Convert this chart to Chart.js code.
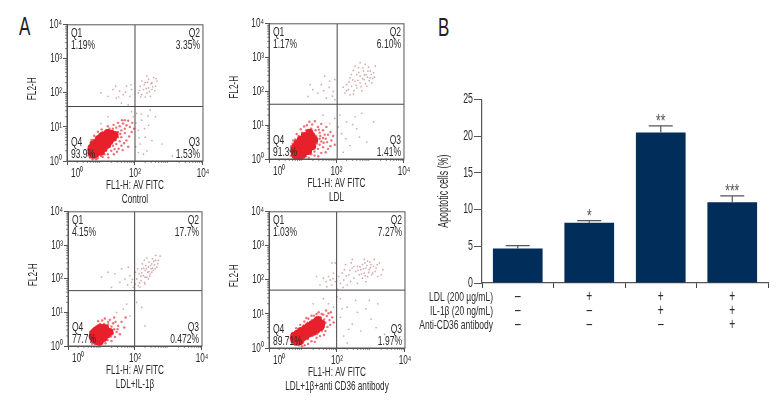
<!DOCTYPE html>
<html>
<head>
<meta charset="utf-8">
<script src="https://cdn.jsdelivr.net/npm/chart.js@4"></script>
<style>
body { margin: 0; background: #fff; width: 780px; height: 408px; overflow: hidden; position: relative; font-family: "Liberation Sans", sans-serif; }
canvas { position: absolute; }
.letter { position: absolute; font-size: 25px; color: #222; line-height: 25px; transform: scaleX(0.68); transform-origin: left top; }
</style>
</head>
<body>
<div class="letter" style="left:19px;top:14px">A</div>
<div class="letter" style="left:438px;top:15px">B</div>
<canvas id="c0"></canvas>
<canvas id="c1"></canvas>
<canvas id="c2"></canvas>
<canvas id="c3"></canvas>
<canvas id="barChart"></canvas>
<script>
// flow panels: all positions below are log10 of the fluorescence reading
var panelNames = ['Control', 'LDL', 'LDL+IL-1β', 'LDL+1β+anti CD36 antibody'];
var q1Text = ['1.19%', '1.17%', '4.15%', '1.03%'];
var q2Text = ['3.35%', '6.10%', '17.7%', '7.27%'];
var q3Text = ['1.53%', '1.41%', '0.472%', '1.97%'];
var q4Text = ['93.9%', '91.3%', '77.7%', '89.71%'];
var gateX = [2.0, 2.02, 1.99, 1.99];
var gateY = [1.6, 1.62, 1.65, 1.7];
var decades = [0, 1, 2, 3, 4];

var controlCore = [[0.72,0.25],[0.78,0.18],[0.85,0.22],[0.72,0.38],[0.8,0.32],[0.9,0.3],[1.0,0.28],[0.78,0.48],[0.88,0.42],[0.98,0.4],[1.08,0.38],[0.88,0.55],[0.98,0.52],[1.08,0.5],[1.18,0.48],[0.95,0.65],[1.05,0.62],[1.15,0.6],[1.25,0.58],[1.05,0.74],[1.15,0.72],[1.25,0.7],[1.35,0.68],[1.2,0.82],[1.3,0.8],[1.4,0.76]];
var controlHalo = [[0.68,0.1],[0.75,0.05],[0.9,0.08],[1.05,0.12],[1.2,0.2],[1.3,0.3],[1.4,0.35],[1.35,0.45],[1.45,0.5],[1.55,0.58],[1.6,0.7],[1.5,0.85],[1.6,0.9],[1.7,0.95],[1.75,1.05],[1.65,1.1],[1.55,1.02],[1.45,0.98],[1.35,0.95],[1.25,0.95],[1.15,0.9],[1.05,0.85],[0.95,0.78],[0.85,0.7],[0.77,0.62],[0.7,0.55],[0.67,0.42],[0.66,0.25],[1.1,0.2],[1.25,0.42],[1.8,1.18],[1.7,1.2],[1.85,1.0],[1.9,0.85],[1.5,0.7],[1.15,0.3],[1.0,0.15],[1.6,0.45],[1.75,0.6],[0.85,0.05],[0.72,0.62],[0.8,0.74],[0.91,0.86],[1.02,0.93],[1.2,1.02],[1.37,1.06],[1.5,1.12],[1.62,1.2],[1.92,1.12],[1.97,0.95],[1.83,0.72],[1.68,0.52],[1.52,0.36],[1.38,0.2],[1.22,0.1],[1.43,0.62],[1.57,0.8],[1.7,0.82],[1.47,0.27],[1.64,0.32],[1.8,0.42],[0.63,0.16],[0.62,0.33]];
var controlSparse = [[2.1,2.0],[2.15,2.2],[2.2,1.95],[2.25,2.1],[2.3,2.3],[2.35,2.0],[2.4,2.15],[2.4,2.4],[2.45,1.9],[2.5,2.1],[2.5,2.3],[2.55,2.45],[2.6,2.2],[2.65,2.35],[2.3,1.88],[2.2,2.35],[2.35,2.5],[1.2,1.9],[1.35,2.1],[1.45,1.85],[1.55,2.05],[1.65,1.95],[1.75,2.2],[1.85,1.9],[1.9,2.1],[1.0,2.0],[1.6,1.7],[1.8,1.65],[2.05,1.4],[2.1,0.9],[2.15,0.5],[2.2,1.2],[2.3,0.7],[2.35,0.3],[2.4,1.05],[2.25,0.2],[2.45,1.5],[2.5,0.6],[2.1,0.25],[2.6,1.3],[2.8,0.5],[3.1,0.15],[1.95,1.3],[1.9,1.45],[1.2,1.3],[1.0,1.1],[2.13,2.07],[2.27,2.24],[2.33,2.13],[2.42,2.04],[2.47,2.27],[2.58,2.06],[2.37,2.31],[2.52,2.18],[2.17,1.88],[2.62,2.42],[1.52,1.88],[1.72,2.02],[1.88,2.24],[1.43,2.2],[2.03,1.12],[2.12,0.68],[2.18,1.38],[2.28,0.95],[2.02,0.42],[2.38,1.32]];

var ldlCore = [[0.78,0.12],[0.88,0.1],[0.98,0.12],[0.76,0.24],[0.86,0.22],[0.96,0.22],[1.06,0.22],[1.16,0.24],[0.78,0.35],[0.88,0.34],[0.98,0.33],[1.08,0.33],[1.18,0.35],[1.28,0.38],[0.84,0.46],[0.94,0.45],[1.04,0.45],[1.14,0.46],[1.24,0.48],[0.94,0.57],[1.04,0.57],[1.14,0.57],[1.24,0.58],[1.34,0.56],[1.06,0.68],[1.16,0.68],[1.26,0.68],[1.2,0.78]];
var ldlHalo = [[0.72,0.05],[0.9,0.03],[1.1,0.08],[1.25,0.14],[1.35,0.22],[1.45,0.3],[1.5,0.42],[1.55,0.52],[1.6,0.62],[1.65,0.72],[1.5,0.78],[1.38,0.85],[1.25,0.9],[1.1,0.85],[0.98,0.78],[0.88,0.68],[0.78,0.58],[0.7,0.45],[0.7,0.3],[0.7,0.15],[1.4,0.68],[1.5,0.6],[1.42,0.46],[1.35,0.1],[1.6,0.35],[1.72,0.5],[1.75,0.72],[1.6,0.85],[1.45,0.95],[1.28,1.02],[1.12,1.0],[1.75,0.3],[1.85,0.55],[1.55,0.18],[1.82,0.8],[0.65,0.1],[0.64,0.24],[0.66,0.38],[0.72,0.55],[0.82,0.74],[0.94,0.88],[1.04,0.96],[1.2,1.1],[1.36,1.12],[1.55,1.04],[1.7,0.95],[1.9,0.68],[1.95,0.42],[1.68,0.2],[1.46,0.08],[1.52,0.68],[1.68,0.6],[1.62,0.48],[1.4,0.58],[1.82,0.38],[1.48,0.87],[1.18,0.03]];
var ldlSparse = [[2.25,1.95],[2.3,2.2],[2.35,2.05],[2.4,2.4],[2.45,2.15],[2.5,1.92],[2.55,2.3],[2.6,2.5],[2.6,2.1],[2.65,2.7],[2.7,2.25],[2.7,2.45],[2.75,2.02],[2.8,2.6],[2.82,2.35],[2.88,2.5],[2.9,2.15],[2.95,2.72],[3.0,2.4],[3.0,2.6],[3.05,2.25],[3.1,2.55],[3.15,2.75],[2.5,2.62],[2.4,1.9],[2.85,2.8],[2.55,2.75],[2.7,2.85],[1.15,1.85],[1.3,2.05],[1.45,1.95],[1.55,2.2],[1.7,1.8],[1.8,2.3],[1.9,2.0],[1.95,2.35],[1.65,2.45],[1.95,1.75],[2.1,1.3],[2.15,0.75],[2.3,1.1],[2.4,0.4],[2.55,1.25],[2.6,0.9],[2.2,0.2],[2.75,1.35],[2.9,0.5],[3.1,1.1],[1.95,1.2],[1.6,1.3],[1.8,1.05],[2.37,2.28],[2.48,2.34],[2.52,2.02],[2.63,2.33],[2.66,2.56],[2.73,2.14],[2.77,2.38],[2.83,2.48],[2.86,2.22],[2.92,2.42],[2.97,2.32],[3.03,2.5],[3.07,2.38],[2.58,2.18],[2.78,2.7],[2.93,2.6],[2.44,2.5],[2.3,2.02],[2.2,2.12],[3.12,2.42],[1.62,2.02],[1.78,2.12],[1.88,1.86],[1.22,2.2],[2.05,0.95],[2.28,0.6],[2.48,1.02],[2.68,0.65]];

var il1bCore = [[0.78,0.2],[0.86,0.15],[0.94,0.13],[0.74,0.3],[0.82,0.28],[0.9,0.26],[0.98,0.25],[1.06,0.24],[0.76,0.38],[0.84,0.37],[0.92,0.36],[1.0,0.35],[1.08,0.35],[1.16,0.34],[0.84,0.46],[0.92,0.45],[1.0,0.45],[1.08,0.45],[1.16,0.44],[1.24,0.42],[0.95,0.54],[1.03,0.54],[1.11,0.53]];
var il1bHalo = [[0.7,0.14],[0.8,0.07],[0.92,0.05],[1.05,0.12],[1.18,0.18],[1.28,0.28],[1.34,0.38],[1.38,0.5],[1.3,0.58],[1.2,0.64],[1.08,0.66],[0.96,0.66],[0.84,0.58],[0.74,0.5],[0.68,0.3],[1.45,0.42],[1.5,0.6],[1.42,0.72],[1.25,0.78],[1.1,0.82],[1.6,0.72],[1.55,0.35],[1.3,0.15],[0.66,0.42],[0.72,0.07],[0.9,0.74],[1.02,0.76],[1.35,0.68],[1.48,0.5],[1.4,0.27],[1.2,0.72],[1.68,0.55],[1.72,0.85],[1.38,0.85],[1.12,0.08]];
var il1bSparse = [[2.0,1.85],[2.05,2.0],[2.1,1.8],[2.12,2.15],[2.18,1.95],[2.2,2.3],[2.25,2.1],[2.28,1.9],[2.3,2.25],[2.32,2.4],[2.35,2.05],[2.38,2.2],[2.4,2.35],[2.42,2.5],[2.45,2.15],[2.48,2.3],[2.5,2.45],[2.52,2.6],[2.55,2.25],[2.58,2.42],[2.62,2.55],[2.65,2.35],[2.7,2.55],[2.75,2.68],[2.2,2.18],[2.3,2.05],[2.4,2.0],[1.95,1.75],[2.15,1.75],[1.85,2.1],[1.7,2.0],[1.55,1.9],[1.4,2.15],[1.2,2.2],[1.0,2.05],[1.6,2.3],[1.8,2.35],[1.9,1.9],[1.3,1.75],[1.75,1.25],[2.05,1.3],[1.65,1.1],[2.2,1.15],[1.45,1.0],[1.85,0.9],[2.3,0.6],[2.22,2.45],[2.28,2.56],[2.35,2.62],[2.42,2.22],[2.46,2.4],[2.52,2.32],[2.56,2.52],[2.6,2.3],[2.68,2.45],[2.34,2.3],[2.26,2.32],[2.18,2.08],[2.14,1.88],[2.3,1.85],[2.44,2.08],[2.5,2.2],[2.62,2.7],[2.02,2.2],[2.08,2.3],[1.92,1.98],[1.78,1.82]];

var ldlAbCore = [[0.74,0.25],[0.82,0.18],[0.9,0.2],[0.74,0.35],[0.82,0.3],[0.9,0.3],[0.98,0.3],[0.84,0.42],[0.92,0.4],[1.0,0.38],[1.08,0.36],[0.94,0.5],[1.02,0.47],[1.1,0.45],[1.18,0.43],[1.06,0.56],[1.14,0.53],[1.22,0.5],[1.3,0.48],[1.16,0.63],[1.24,0.6],[1.32,0.57],[1.4,0.54],[1.27,0.7],[1.35,0.67],[1.43,0.64],[1.51,0.62],[1.38,0.76],[1.46,0.74],[1.54,0.72],[1.44,0.82]];
var ldlAbHalo = [[0.68,0.16],[0.76,0.1],[0.88,0.08],[1.0,0.16],[1.14,0.26],[1.28,0.36],[1.42,0.42],[1.55,0.5],[1.62,0.62],[1.66,0.74],[1.62,0.84],[1.52,0.9],[1.38,0.88],[1.26,0.82],[1.14,0.74],[1.02,0.66],[0.9,0.56],[0.78,0.48],[0.68,0.36],[1.7,0.94],[1.78,0.82],[1.72,0.62],[1.55,1.0],[1.4,1.0],[1.25,0.95],[1.1,0.88],[1.05,0.08],[1.25,0.2],[1.5,0.35],[1.82,1.05],[1.9,0.75],[1.68,1.1],[0.64,0.28],[0.7,0.45],[0.8,0.58],[0.92,0.68],[1.04,0.78],[1.16,0.86],[1.32,0.95],[1.46,1.05],[1.6,0.98],[1.75,1.02],[1.86,0.9],[1.8,0.68],[1.66,0.5],[1.4,0.3],[1.15,0.12],[0.97,0.05],[1.35,0.18],[1.62,0.38]];
var ldlAbSparse = [[2.1,1.9],[2.15,2.2],[2.2,2.0],[2.25,2.45],[2.3,1.85],[2.35,2.15],[2.4,1.95],[2.45,2.35],[2.5,2.05],[2.55,2.25],[2.6,2.4],[2.65,2.15],[2.7,2.3],[2.75,2.05],[2.75,2.45],[2.8,2.2],[2.85,2.35],[2.9,2.55],[2.9,2.1],[2.95,2.3],[3.0,2.45],[3.05,2.2],[3.1,2.6],[3.15,2.35],[3.2,2.1],[3.25,2.5],[3.35,2.3],[2.6,1.9],[2.85,1.95],[2.45,2.6],[2.8,2.6],[1.5,1.85],[1.6,2.05],[1.7,1.8],[1.75,2.1],[1.8,2.0],[1.85,1.85],[1.9,2.2],[1.95,1.95],[1.4,2.1],[1.95,2.5],[1.85,2.5],[2.1,1.45],[2.1,0.9],[2.2,0.35],[2.3,1.2],[2.45,0.7],[2.55,1.4],[2.7,0.5],[2.85,1.15],[3.0,0.85],[3.2,1.3],[3.4,0.4],[2.3,0.15],[1.6,1.45],[1.75,1.3],[1.9,1.2],[1.3,1.3],[2.0,1.5],[2.72,2.18],[2.78,2.33],[2.83,2.12],[2.88,2.42],[2.93,2.22],[2.98,2.36],[3.02,2.15],[3.07,2.4],[3.12,2.25],[2.68,2.38],[2.62,2.28],[2.82,2.5],[2.97,2.52],[2.5,2.4],[2.38,2.28],[2.22,2.3],[2.27,2.12],[2.18,1.78],[2.42,2.5],[3.18,2.45],[3.3,2.15],[1.88,2.04],[1.68,1.95],[2.05,2.1],[2.02,1.72],[2.15,1.15],[2.35,0.55],[2.6,1.05],[2.95,1.4],[3.15,0.6]];

var panelCore = [controlCore, ldlCore, il1bCore, ldlAbCore];
var panelHalo = [controlHalo, ldlHalo, il1bHalo, ldlAbHalo];
var panelSparse = [controlSparse, ldlSparse, il1bSparse, ldlAbSparse];

// bar panel
var barValues = [4.7, 8.2, 20.5, 11];
var errorTops = [5.1, 8.5, 21.4, 11.85];
var stars = ['', '*', '**', '***'];
var yTicks = [0, 5, 10, 15, 20, 25];
var ldlRow = ['–', '+', '+', '+'];
var il1bRow = ['–', '–', '+', '+'];
var cd36Row = ['–', '–', '–', '+'];
var rowNames = ['LDL (200 µg/mL)', 'IL-1β (20 ng/mL)', 'Anti-CD36 antibody'];

var fontName = '"Liberation Sans", sans-serif';
var textColor = '#2a2a2a';
var axisColor = '#555';
var textSqueeze = 0.63;   // no narrow font here, so squeeze the text sideways

// where each flow plot sits on the page: left, top, size of plot area
var boxes = [[67, 24, 137], [269, 23, 136], [68, 211, 135], [269, 211, 137]];
var padLeft = 45, padTop = 8, padRight = 10, padBottom = 46;

Chart.register({
    id: 'narrowText',
    beforeInit: function (chart) {
        var ctx = chart.ctx;
        var original = ctx.fillText.bind(ctx);
        ctx.fillText = function (text, x, y) {
            ctx.save();
            ctx.translate(x, y);
            ctx.scale(textSqueeze, 1);
            original(text, 0, 0);
            ctx.restore();
        };
    }
});

var flowPlugin = {
    id: 'flowPlugin',
    afterDraw: function (chart) {
        var ctx = chart.ctx, a = chart.chartArea, i = chart.options.panelIndex;
        var x = chart.scales.x, y = chart.scales.y;
        ctx.save();
        ctx.strokeStyle = axisColor;
        ctx.lineWidth = 1;
        ctx.strokeRect(a.left, a.top, a.right - a.left, a.bottom - a.top);
        // short ticks between the decades
        ctx.lineWidth = 0.7;
        ctx.beginPath();
        for (var d = 0; d < 4; d++) {
            for (var m = 2; m < 10; m++) {
                var v = d + Math.log10(m);
                ctx.moveTo(x.getPixelForValue(v), a.bottom);
                ctx.lineTo(x.getPixelForValue(v), a.bottom + 2);
                ctx.moveTo(a.left, y.getPixelForValue(v));
                ctx.lineTo(a.left - 2, y.getPixelForValue(v));
            }
        }
        ctx.stroke();
        ctx.fillStyle = textColor;
        ctx.font = '13.5px ' + fontName;
        ctx.textBaseline = 'middle';
        ctx.textAlign = 'left';
        ctx.fillText('Q1', a.left + 4, a.top + 8);
        ctx.fillText(q1Text[i], a.left + 4, a.top + 20);
        ctx.fillText('Q4', a.left + 4, a.bottom - 19);
        ctx.fillText(q4Text[i], a.left + 4, a.bottom - 7);
        ctx.textAlign = 'right';
        ctx.fillText('Q2', a.right - 3, a.top + 8);
        ctx.fillText(q2Text[i], a.right - 3, a.top + 20);
        ctx.fillText('Q3', a.right - 3, a.bottom - 19);
        ctx.fillText(q3Text[i], a.right - 3, a.bottom - 7);
        ctx.restore();
    }
};

function makePanel(i) {
    var b = boxes[i];
    var canvas = document.getElementById('c' + i);
    canvas.width = b[2] + padLeft + padRight;
    canvas.height = b[2] + padTop + padBottom;
    canvas.style.left = (b[0] - padLeft) + 'px';
    canvas.style.top = (b[1] - padTop) + 'px';

    new Chart(canvas, {
        type: 'scatter',
        data: {
            datasets: [
                { data: panelSparse[i], pointRadius: 0.85, backgroundColor: 'rgba(180,90,100,0.55)', pointBorderWidth: 0, order: 4 },
                { data: panelHalo[i], pointRadius: 1.2, backgroundColor: 'rgba(232,50,60,0.7)', pointBorderWidth: 0, order: 3 },
                { data: panelCore[i], pointRadius: 4, backgroundColor: '#e7202b', pointBorderWidth: 0, order: 2 },
                { data: [[gateX[i], 0], [gateX[i], 4]], showLine: true, pointRadius: 0, borderColor: '#444', borderWidth: 1, order: 1 },
                { data: [[0, gateY[i]], [4, gateY[i]]], showLine: true, pointRadius: 0, borderColor: '#444', borderWidth: 1, order: 1 }
            ]
        },
        options: {
            panelIndex: i,
            responsive: false,
            animation: false,
            layout: { padding: { top: padTop, right: padRight } },
            plugins: { legend: { display: false }, tooltip: { enabled: false } },
            scales: {
                x: {
                    type: 'linear', min: 0, max: 4,
                    afterBuildTicks: function (s) { s.ticks = decades.map(function (d) { return { value: d }; }); },
                    afterFit: function (s) { s.height = padBottom; },
                    grid: { drawOnChartArea: false, tickLength: 4, tickColor: axisColor },
                    border: { color: axisColor },
                    ticks: {
                        maxRotation: 0, padding: 1, color: textColor, font: { family: fontName, size: 13 },
                        callback: function (v) { return (v === 0 ? '\u2003\u2003\u2002' : '') + '10' + '⁰¹²³⁴'[v]; }
                    },
                    title: { display: true, text: ['FL1-H: AV FITC', panelNames[i]], color: textColor, font: { family: fontName, size: 13, lineHeight: 1.1 }, padding: 0 }
                },
                y: {
                    type: 'linear', min: 0, max: 4,
                    afterBuildTicks: function (s) { s.ticks = decades.map(function (d) { return { value: d }; }); },
                    afterFit: function (s) { s.width = padLeft; },
                    grid: { drawOnChartArea: false, tickLength: 4, tickColor: axisColor },
                    border: { color: axisColor },
                    ticks: {
                        padding: 1, color: textColor, font: { family: fontName, size: 13 },
                        callback: function (v) { return '10' + '⁰¹²³⁴'[v]; }
                    },
                    title: { display: true, text: '\u2003FL2-H', color: textColor, font: { family: fontName, size: 13 }, padding: 3 }
                }
            }
        },
        plugins: [flowPlugin]
    });
}

for (var p = 0; p < 4; p++) {
    makePanel(p);
}

// error bars, stars and the row names for the bar panel
var barPlugin = {
    id: 'barPlugin',
    afterDatasetsDraw: function (chart) {
        var ctx = chart.ctx, x = chart.scales.x, y = chart.scales.y, a = chart.chartArea;
        ctx.save();
        ctx.strokeStyle = '#555';
        ctx.lineWidth = 1.2;
        ctx.fillStyle = '#555';
        ctx.textAlign = 'center';
        ctx.textBaseline = 'middle';
        ctx.font = '19px ' + fontName;
        for (var i = 0; i < barValues.length; i++) {
            var cx = x.getPixelForValue(i);
            var top = y.getPixelForValue(errorTops[i]);
            ctx.beginPath();
            ctx.moveTo(cx, y.getPixelForValue(barValues[i]));
            ctx.lineTo(cx, top);
            ctx.moveTo(cx - 12, top);
            ctx.lineTo(cx + 12, top);
            ctx.stroke();
            if (stars[i]) {
                ctx.fillText(stars[i], cx, top - 4);
            }
        }
        ctx.fillStyle = textColor;
        ctx.textAlign = 'right';
        ctx.font = '13.5px ' + fontName;
        for (var r = 0; r < rowNames.length; r++) {
            ctx.fillText(rowNames[r], a.left + 11, a.bottom + 14 + r * 14);
        }
        ctx.restore();
    }
};

var barCanvas = document.getElementById('barChart');
barCanvas.width = 360;
barCanvas.height = 250;
barCanvas.style.left = '410px';
barCanvas.style.top = '90px';

new Chart(barCanvas, {
    type: 'bar',
    data: {
        labels: ldlRow.map(function (s, i) { return [s, il1bRow[i], cd36Row[i]]; }),
        datasets: [{ data: barValues, backgroundColor: '#012d5b', barPercentage: 0.695, categoryPercentage: 1 }]
    },
    options: {
        responsive: false,
        animation: false,
        layout: { padding: { top: 9, right: 2 } },
        plugins: { legend: { display: false }, tooltip: { enabled: false } },
        scales: {
            x: {
                afterFit: function (s) { s.height = 57; },
                grid: { drawOnChartArea: false, tickLength: 5, tickColor: '#444' },
                border: { color: '#555', width: 1.2 },
                ticks: { maxRotation: 0, padding: 2, color: textColor, font: { family: fontName, size: 16, lineHeight: 0.875 } }
            },
            y: {
                min: 0, max: 25,
                afterBuildTicks: function (s) { s.ticks = yTicks.map(function (v) { return { value: v }; }); },
                afterFit: function (s) { s.width = 72; },
                grid: { drawOnChartArea: false, tickLength: 8, tickColor: '#555' },
                border: { color: '#555', width: 1.2 },
                ticks: { padding: 1, color: textColor, font: { family: fontName, size: 14 } },
                title: { display: true, text: 'Apoptotic cells (%)', color: textColor, font: { family: fontName, size: 14 }, padding: { top: 26, bottom: 0 } }
            }
        }
    },
    plugins: [barPlugin]
});
</script>
</body>
</html>
